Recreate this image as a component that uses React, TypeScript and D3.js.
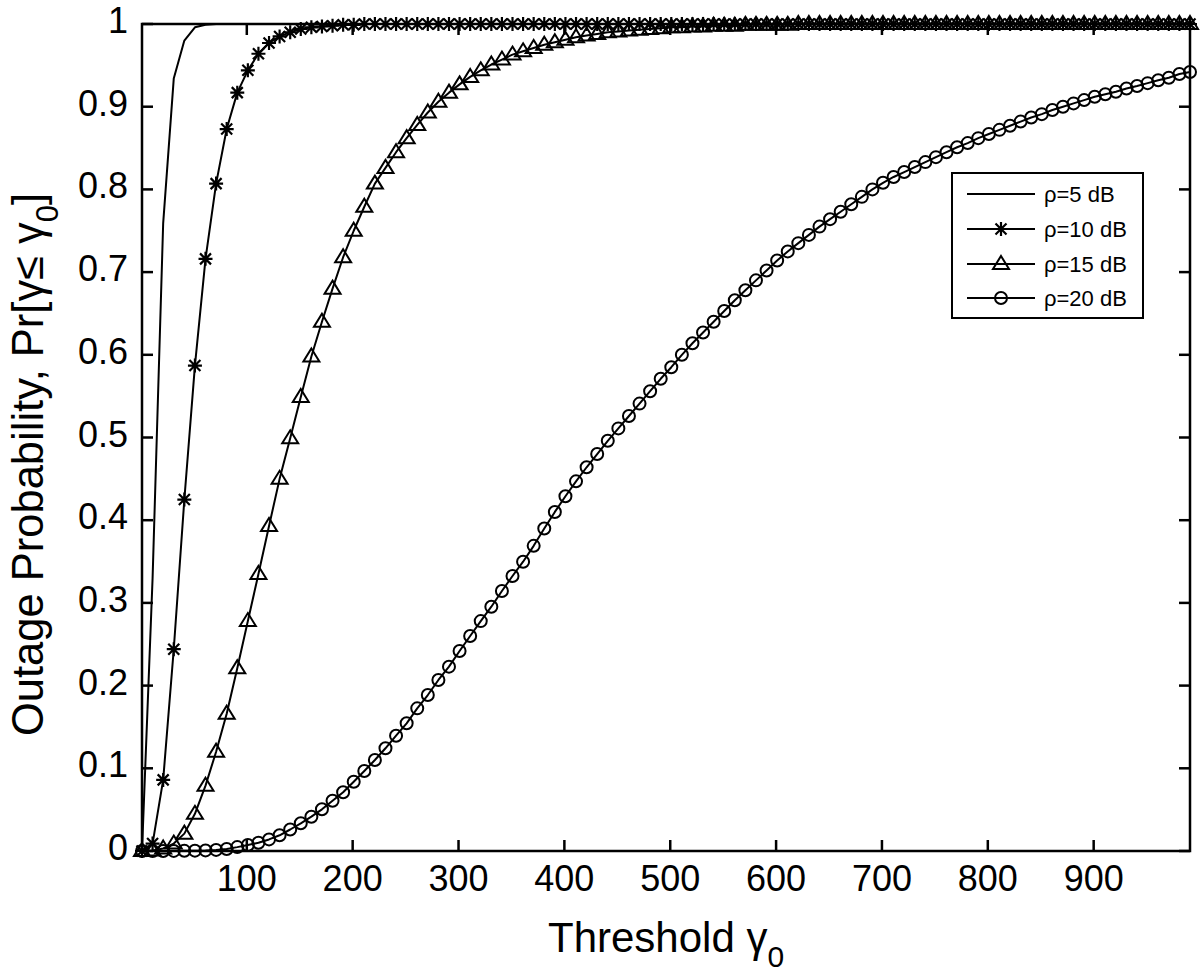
import React from "react";
import * as d3 from "d3";

// Threshold grid (gamma_0)
const thresholds: number[] = [
  1, 11, 21, 31, 41, 51, 61, 71, 81, 91,
  101, 111, 121, 131, 141, 151, 161, 171, 181, 191,
  201, 211, 221, 231, 241, 251, 261, 271, 281, 291,
  301, 311, 321, 331, 341, 351, 361, 371, 381, 391,
  401, 411, 421, 431, 441, 451, 461, 471, 481, 491,
  501, 511, 521, 531, 541, 551, 561, 571, 581, 591,
  601, 611, 621, 631, 641, 651, 661, 671, 681, 691,
  701, 711, 721, 731, 741, 751, 761, 771, 781, 791,
  801, 811, 821, 831, 841, 851, 861, 871, 881, 891,
  901, 911, 921, 931, 941, 951, 961, 971, 981, 991,
];

const rho5: number[] = [
  0, 0.33, 0.759, 0.934, 0.98, 0.996, 0.999, 1, 1, 1,
  1, 1, 1, 1, 1, 1, 1, 1, 1, 1,
  1, 1, 1, 1, 1, 1, 1, 1, 1, 1,
  1, 1, 1, 1, 1, 1, 1, 1, 1, 1,
  1, 1, 1, 1, 1, 1, 1, 1, 1, 1,
  1, 1, 1, 1, 1, 1, 1, 1, 1, 1,
  1, 1, 1, 1, 1, 1, 1, 1, 1, 1,
  1, 1, 1, 1, 1, 1, 1, 1, 1, 1,
  1, 1, 1, 1, 1, 1, 1, 1, 1, 1,
  1, 1, 1, 1, 1, 1, 1, 1, 1, 1,
];

const rho10: number[] = [
  0, 0.009, 0.086, 0.244, 0.425, 0.587, 0.716, 0.807, 0.873, 0.917,
  0.944, 0.964, 0.977, 0.985, 0.99, 0.994, 0.996, 0.997, 0.998, 0.999,
  0.999, 1, 1, 1, 1, 1, 1, 1, 1, 1,
  1, 1, 1, 1, 1, 1, 1, 1, 1, 1,
  1, 1, 1, 1, 1, 1, 1, 1, 1, 1,
  1, 1, 1, 1, 1, 1, 1, 1, 1, 1,
  1, 1, 1, 1, 1, 1, 1, 1, 1, 1,
  1, 1, 1, 1, 1, 1, 1, 1, 1, 1,
  1, 1, 1, 1, 1, 1, 1, 1, 1, 1,
  1, 1, 1, 1, 1, 1, 1, 1, 1, 1,
];

const rho15: number[] = [
  0, 0.0005, 0.003, 0.009, 0.021, 0.045, 0.079, 0.12, 0.166, 0.221,
  0.278, 0.335, 0.393, 0.45, 0.499, 0.549, 0.598, 0.64, 0.68, 0.718,
  0.75, 0.779, 0.807, 0.826, 0.845, 0.862, 0.878, 0.893, 0.906, 0.917,
  0.927, 0.936, 0.944, 0.951, 0.957, 0.963, 0.967, 0.971, 0.975, 0.978,
  0.981, 0.984, 0.986, 0.988, 0.99, 0.991, 0.992, 0.993, 0.994, 0.995,
  0.996, 0.996, 0.997, 0.997, 0.998, 0.998, 0.998, 0.999, 0.999, 0.999,
  0.999, 0.999, 1, 1, 1, 1, 1, 1, 1, 1,
  1, 1, 1, 1, 1, 1, 1, 1, 1, 1,
  1, 1, 1, 1, 1, 1, 1, 1, 1, 1,
  1, 1, 1, 1, 1, 1, 1, 1, 1, 1,
];

const rho20: number[] = [
  0, 0, 0, 0.0001, 0.0002, 0.0004, 0.0007, 0.0013, 0.0025, 0.0047,
  0.0073, 0.01, 0.014, 0.019, 0.026, 0.0335, 0.0415, 0.0504, 0.0608, 0.071,
  0.0838, 0.0967, 0.11, 0.1242, 0.1394, 0.1544, 0.1725, 0.1886, 0.2068, 0.2229,
  0.2418, 0.26, 0.278, 0.2954, 0.3144, 0.3325, 0.3498, 0.369, 0.39, 0.41,
  0.429, 0.447, 0.464, 0.48, 0.496, 0.511, 0.526, 0.541, 0.556, 0.571,
  0.585, 0.6, 0.614, 0.627, 0.64, 0.653, 0.666, 0.678, 0.69, 0.702,
  0.714, 0.725, 0.735, 0.745, 0.755, 0.764, 0.773, 0.782, 0.791, 0.8,
  0.808, 0.815, 0.821, 0.827, 0.833, 0.839, 0.845, 0.851, 0.856, 0.862,
  0.867, 0.872, 0.877, 0.882, 0.887, 0.891, 0.896, 0.9, 0.904, 0.908,
  0.912, 0.915, 0.918, 0.922, 0.925, 0.9285, 0.932, 0.935, 0.9395, 0.942,
];

const xTicks: number[] = [100, 200, 300, 400, 500, 600, 700, 800, 900];
const yTicks: number[] = [0, 0.1, 0.2, 0.3, 0.4, 0.5, 0.6, 0.7, 0.8, 0.9, 1];
const yTickLabels: string[] = ["0", "0.1", "0.2", "0.3", "0.4", "0.5", "0.6", "0.7", "0.8", "0.9", "1"];

const seriesNames: string[] = ["ρ=5 dB", "ρ=10 dB", "ρ=15 dB", "ρ=20 dB"];
const seriesMarkers: string[] = ["none", "star", "triangle", "circle"];

const FONT = "'Liberation Sans', Arial, Helvetica, sans-serif";

function Marker({ kind, cx, cy }: { kind: string; cx: number; cy: number }) {
  if (kind === "star") {
    return (
      <path
        d={`M${cx},${cy - 7}V${cy + 7}M${cx - 7},${cy}H${cx + 7}M${cx - 5.5},${cy - 5.5}L${cx + 5.5},${cy + 5.5}M${cx - 5.5},${cy + 5.5}L${cx + 5.5},${cy - 5.5}`}
        stroke="#000"
        strokeWidth={2.2}
        fill="none"
      />
    );
  }
  if (kind === "triangle") {
    return (
      <path
        d={`M${cx},${cy - 8}L${cx + 8},${cy + 5}L${cx - 8},${cy + 5}Z`}
        stroke="#000"
        strokeWidth={2}
        fill="none"
        strokeLinejoin="miter"
      />
    );
  }
  if (kind === "circle") {
    return <circle cx={cx} cy={cy} r={6} stroke="#000" strokeWidth={2} fill="none" />;
  }
  return null;
}

export default function App() {
  const left = 142, right = 1190, top = 24, bottom = 851;
  const x = d3.scaleLinear().domain([1, 991]).range([left, right]);
  const y = d3.scaleLinear().domain([0, 1]).range([bottom, top]);
  const allSeries = [rho5, rho10, rho15, rho20];

  const line = d3
    .line<number>()
    .x((_, i) => x(thresholds[i]))
    .y((d) => y(d));

  const legendRows = [194, 229, 264, 298];

  return (
    <svg
      width={1200}
      height={977}
      style={{ position: "absolute", left: 0, top: 0, background: "#fff" }}
      fontFamily={FONT}
    >
      <rect x={0} y={0} width={1200} height={977} fill="#fff" />

      {/* axes box */}
      <rect x={left} y={top} width={right - left} height={bottom - top} fill="none" stroke="#000" strokeWidth={2.5} />

      {/* ticks */}
      {xTicks.map((t) => (
        <g key={`xt${t}`}>
          <line x1={x(t)} x2={x(t)} y1={bottom} y2={bottom - 11} stroke="#000" strokeWidth={2.5} />
          <line x1={x(t)} x2={x(t)} y1={top} y2={top + 11} stroke="#000" strokeWidth={2.5} />
          <text x={x(t)} y={891} fontSize={36} textAnchor="middle" fill="#000">
            {t}
          </text>
        </g>
      ))}
      {yTicks.map((t, i) => (
        <g key={`yt${t}`}>
          <line x1={left} x2={left + 11} y1={y(t)} y2={y(t)} stroke="#000" strokeWidth={2.5} />
          <line x1={right} x2={right - 11} y1={y(t)} y2={y(t)} stroke="#000" strokeWidth={2.5} />
          <text x={128} y={y(t) + 9} fontSize={36} textAnchor="end" fill="#000">
            {yTickLabels[i]}
          </text>
        </g>
      ))}

      {/* series */}
      {allSeries.map((s, si) => (
        <g key={`s${si}`}>
          <path d={line(s) || ""} fill="none" stroke="#000" strokeWidth={2} strokeLinejoin="round" />
          {seriesMarkers[si] !== "none" &&
            s.map((v, i) => <Marker key={i} kind={seriesMarkers[si]} cx={x(thresholds[i])} cy={y(v)} />)}
        </g>
      ))}

      {/* legend */}
      <rect x={952} y={173} width={191} height={145} fill="#fff" stroke="#000" strokeWidth={2} />
      {seriesNames.map((name, i) => (
        <g key={`lg${i}`}>
          <line x1={967} x2={1035} y1={legendRows[i]} y2={legendRows[i]} stroke="#000" strokeWidth={2} />
          <Marker kind={seriesMarkers[i]} cx={1001} cy={legendRows[i]} />
          <text x={1044} y={legendRows[i] + 7.5} fontSize={22} fill="#000">
            {name}
          </text>
        </g>
      ))}

      {/* x label */}
      <text x={548} y={952} fontSize={42} fill="#000">
        <tspan>Threshold </tspan>
        <tspan>γ</tspan>
        <tspan fontSize={30} dy={15}>0</tspan>
      </text>

      {/* y label */}
      <text transform="translate(43,736) rotate(-90)" fontSize={43.5} fill="#000">
        <tspan>Outage Probability, Pr[γ≤ γ</tspan>
        <tspan fontSize={31} dy={15}>0</tspan>
        <tspan dy={-15}>]</tspan>
      </text>
    </svg>
  );
}
